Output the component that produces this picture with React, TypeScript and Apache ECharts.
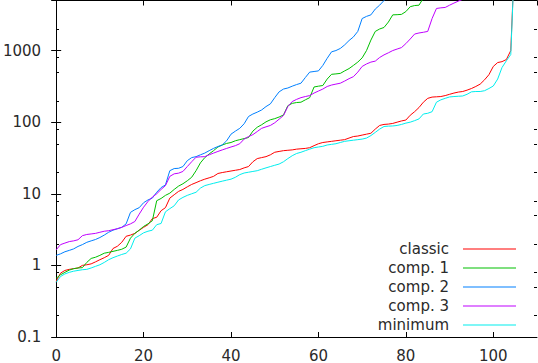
import React, { useEffect, useRef } from "react";
import * as echarts from "echarts";

const seriesNames = ["classic", "comp. 1", "comp. 2", "comp. 3", "minimum"];
const seriesColors = ["#ff0000", "#00c000", "#0080ff", "#c000ff", "#00eeee"];

const classic = [
  0.6, 0.78, 0.85, 0.88, 0.9, 0.92, 1.0, 1.02, 1.05, 1.12,
  1.2, 1.28, 1.38, 1.72, 1.85, 2.1, 2.55, 2.65, 2.8, 3.1,
  3.4, 3.7, 4.5, 4.7, 5.8, 6.4, 8.7, 9.7, 10.8, 11.5,
  12.5, 13.5, 14.3, 15.2, 16, 16.7, 17.5, 19.2, 19.8, 20.3,
  20.8, 21.3, 21.8, 23, 24, 28, 31, 32, 33, 35,
  38, 39, 40, 40.5, 41, 42, 42.5, 43, 44, 47,
  50, 52, 53, 54, 55, 56, 57, 60, 63, 64,
  66, 68, 70, 80, 90, 93, 94, 96, 100, 104,
  107, 125, 140, 160, 190, 215, 224, 226, 228, 235,
  245, 255, 263, 268, 280, 295, 315, 340, 390, 460,
  600, 680, 700, 750, 1000, 30000,
];

const comp1 = [
  0.66, 0.74, 0.8, 0.86, 0.9, 0.92, 0.93, 1.1, 1.25, 1.3,
  1.38, 1.48, 1.52, 1.57, 1.62, 1.68, 1.8, 2.4, 2.8, 3.1,
  3.5, 3.8, 4.2, 8, 8.6, 9.5, 10.2, 11.5, 12.8, 13.8,
  15.2, 17, 21, 27, 32, 36, 40, 45, 48, 50.5,
  52, 55, 57, 59, 61, 75, 85, 92, 101, 108,
  112, 118, 126, 170, 183, 188, 190, 205, 220, 310,
  318, 325, 400, 466, 472, 480, 520, 560, 620, 690,
  790, 1000, 1400, 1850, 2000, 2100, 2500, 3150, 3170, 3200,
  3500, 4100, 4250, 4300, 5400, 6500,
];

const comp2 = [
  1.38, 1.45, 1.55, 1.62, 1.7, 1.84, 1.95, 2.1, 2.2, 2.3,
  2.45, 2.65, 2.9, 3.1, 3.25, 3.4, 3.8, 5.5, 6, 6.4,
  7.5, 8.2, 8.7, 10.5, 12.2, 13.3, 21, 22.5, 22.7, 24,
  29, 32, 33, 35, 37, 40, 43, 45.7, 48, 55,
  68, 75, 82, 95, 120, 130, 138, 148, 165, 180,
  220, 265, 290, 300, 318, 335, 350, 420, 500, 510,
  520, 620, 780, 960, 1000, 1070, 1200, 1380, 1550, 1850,
  2800, 3000, 3150, 3800, 4300, 5000, 5800, 6800, 8000,
];

const comp3 = [
  1.65, 1.95, 2.05, 2.15, 2.2, 2.28, 2.6, 2.7, 2.75, 2.8,
  2.9, 3.0, 3.05, 3.15, 3.25, 3.4, 3.6, 3.8, 4.1, 5.2,
  6.5, 7.8, 9, 10, 11.5, 13, 17.5, 19, 19.4, 20.5,
  24, 28, 32.4, 32.8, 33, 35, 37, 39, 41, 43,
  45, 47, 50, 58, 63, 67, 74, 82, 86, 90,
  98, 110, 124, 165, 194, 208, 220, 228, 235, 255,
  272, 290, 315, 330, 340, 350, 375, 405, 432, 500,
  600, 650, 690, 712, 800, 870, 930, 1000, 1050, 1100,
  1250, 1450, 1700, 1760, 1800, 1850, 2800, 3870, 3950, 4000,
  4300, 4600, 4900, 5200, 5600,
];

const minimum = [
  0.58, 0.7, 0.76, 0.8, 0.83, 0.85, 0.87, 0.88, 0.92, 0.97,
  1.02, 1.1, 1.2, 1.28, 1.35, 1.42, 1.48, 1.7, 2.4, 2.6,
  2.85, 3.0, 3.1, 3.7, 3.85, 5.6, 6.2, 6.8, 8.2, 8.9,
  9.5, 10, 10.5, 12, 13, 13.5, 14, 14.5, 15, 15.5,
  16, 17, 18.5, 19.5, 20, 20.5, 21, 22, 23, 24,
  25, 26, 28, 31, 34, 36.5, 38, 40, 42, 44,
  45, 46, 48, 49, 50, 52, 54, 55, 56, 57,
  58, 60, 65, 72, 80, 87, 88, 88.5, 90, 93,
  97, 100, 105, 111, 130, 133, 140, 190, 205, 215,
  225, 228, 230, 232, 245, 265, 268, 268, 275, 295,
  320, 400, 580, 720, 880, 30000,
];

const allSeries = [classic, comp1, comp2, comp3, minimum];

const xMin = 0;
const xMax = 110;
const xInterval = 20;
const yMin = 0.1;
const yMax = 5000;
const minorTickValues = [
  0.2, 0.5, 0.8, 2, 5, 8, 20, 50, 80, 200, 500, 800, 2000,
];

const FONT = "DejaVu Sans";
const TEXT_COLOR = "#2a2a2a";

export default function App() {
  const ref = useRef<HTMLDivElement>(null);

  useEffect(() => {
    if (!ref.current) return;
    const chart = echarts.init(ref.current, undefined, { renderer: "svg" });

    const axisLine = { show: true, lineStyle: { color: "#000", width: 1 } };
    const lineSeries = allSeries.map((vals, si) => ({
      name: seriesNames[si],
      type: "line",
      xAxisIndex: 0,
      yAxisIndex: 0,
      showSymbol: false,
      symbol: "none",
      clip: true,
      color: seriesColors[si],
      lineStyle: { width: 1, color: seriesColors[si] },
      data: vals.map((v, i) => [i, v]),
      z: 3,
    }));

    const minorTicks = {
      type: "custom",
      xAxisIndex: 0,
      yAxisIndex: 0,
      silent: true,
      clip: false,
      z: 5,
      data: minorTickValues.map((v) => [xMin, v]),
      renderItem: (_params: any, api: any) => {
        const v = api.value(1);
        const pl = api.coord([xMin, v]);
        const pr = api.coord([xMax, v]);
        const y = Math.round(pl[1]) + 0.5;
        const xl = Math.round(pl[0]);
        const xr = Math.round(pr[0]);
        return {
          type: "group",
          children: [
            {
              type: "line",
              shape: { x1: xl, y1: y, x2: xl + 3, y2: y },
              style: { stroke: "#000", lineWidth: 1 },
            },
            {
              type: "line",
              shape: { x1: xr - 3, y1: y, x2: xr, y2: y },
              style: { stroke: "#000", lineWidth: 1 },
            },
          ],
        };
      },
    };

    chart.setOption({
      animation: false,
      backgroundColor: "#ffffff",
      textStyle: { fontFamily: FONT },
      grid: { left: 53, right: 1, top: 0.5, bottom: 24, containLabel: false },
      legend: {
        data: seriesNames,
        orient: "vertical",
        align: "right",
        right: 22,
        top: 239.5,
        padding: 0,
        itemGap: 0,
        itemWidth: 53,
        itemHeight: 1,
        icon: "rect",
        selectedMode: false,
        textStyle: {
          fontFamily: FONT,
          fontSize: 15,
          color: TEXT_COLOR,
          lineHeight: 19,
          padding: [0, 9, 0, 0],
        },
      },
      xAxis: [
        {
          type: "value",
          min: xMin,
          max: xMax,
          interval: xInterval,
          position: "bottom",
          axisLine,
          axisTick: { show: true, inside: true, length: 5, lineStyle: { color: "#000" } },
          axisLabel: {
            show: true,
            fontFamily: FONT,
            fontSize: 15,
            color: TEXT_COLOR,
            margin: 11,
            showMaxLabel: false,
          },
          splitLine: { show: false },
        },
        {
          type: "value",
          min: xMin,
          max: xMax,
          interval: xInterval,
          position: "top",
          axisLine,
          axisTick: { show: true, inside: true, length: 5, lineStyle: { color: "#000" } },
          axisLabel: { show: false },
          splitLine: { show: false },
        },
      ],
      yAxis: [
        {
          type: "log",
          logBase: 10,
          min: yMin,
          max: yMax,
          position: "left",
          axisLine,
          axisTick: { show: true, inside: true, length: 5, lineStyle: { color: "#000" } },
          axisLabel: {
            show: true,
            fontFamily: FONT,
            fontSize: 15,
            color: TEXT_COLOR,
            margin: 15,
            showMaxLabel: false,
            formatter: (v: number) => (v >= 1 ? String(Math.round(v)) : String(v)),
          },
          splitLine: { show: false },
        },
        {
          type: "log",
          logBase: 10,
          min: yMin,
          max: yMax,
          position: "right",
          axisLine,
          axisTick: { show: true, inside: true, length: 5, lineStyle: { color: "#000" } },
          axisLabel: { show: false },
          splitLine: { show: false },
        },
      ],
      series: [...lineSeries, minorTicks],
    });

    return () => {
      chart.dispose();
    };
  }, []);

  return (
    <div
      ref={ref}
      style={{ position: "fixed", left: 0, top: 0, width: 538, height: 363 }}
    />
  );
}
